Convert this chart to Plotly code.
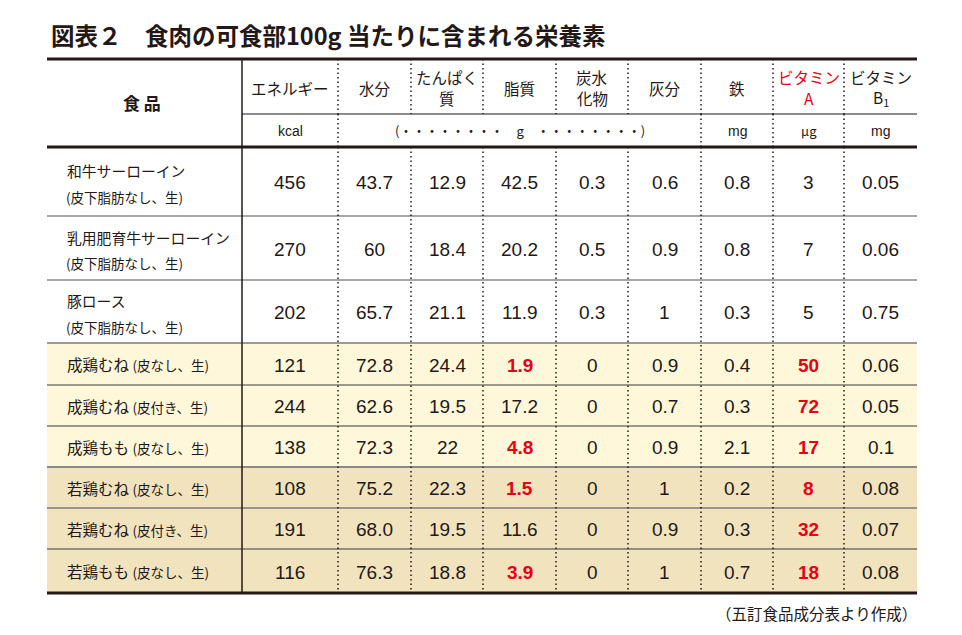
import plotly.graph_objects as go

# ---------------- data ----------------
food_names = ["和牛サーローイン", "乳用肥育牛サーローイン", "豚ロース",
              "成鶏むね", "成鶏むね", "成鶏もも",
              "若鶏むね", "若鶏むね", "若鶏もも"]
food_notes = ["(皮下脂肪なし、生)", "(皮下脂肪なし、生)", "(皮下脂肪なし、生)",
              "(皮なし、生)", "(皮付き、生)", "(皮なし、生)",
              "(皮なし、生)", "(皮付き、生)", "(皮なし、生)"]
header_labels = ["エネルギー", "水分", "たんぱく<br>質", "脂質", "炭水<br>化物",
                 "灰分", "鉄", "ビタミン<br>A", "ビタミン<br>B<sub>1</sub>"]
unit_labels = ["kcal", "(・・・・・・・・　g　・・・・・・・・)", "mg", "μg", "mg"]
energy = ["456", "270", "202", "121", "244", "138", "108", "191", "116"]
water = ["43.7", "60", "65.7", "72.8", "62.6", "72.3", "75.2", "68.0", "76.3"]
protein = ["12.9", "18.4", "21.1", "24.4", "19.5", "22", "22.3", "19.5", "18.8"]
fat = ["42.5", "20.2", "11.9", "1.9", "17.2", "4.8", "1.5", "11.6", "3.9"]
carbs = ["0.3", "0.5", "0.3", "0", "0", "0", "0", "0", "0"]
ash = ["0.6", "0.9", "1", "0.9", "0.7", "0.9", "1", "0.9", "1"]
iron = ["0.8", "0.8", "0.3", "0.4", "0.3", "2.1", "0.2", "0.3", "0.7"]
vit_a = ["3", "7", "5", "50", "72", "17", "8", "32", "18"]
vit_b1 = ["0.05", "0.06", "0.75", "0.06", "0.05", "0.1", "0.08", "0.07", "0.08"]
# highlighted (red bold) cells: (row, column)
highlight = {(3, 3), (5, 3), (6, 3), (8, 3),
             (3, 7), (4, 7), (5, 7), (6, 7), (7, 7), (8, 7)}
row_group = [0, 0, 0, 1, 1, 1, 2, 2, 2]
title = "図表２　食肉の可食部100g 当たりに含まれる栄養素"
source = "（五訂食品成分表より作成）"

columns = [energy, water, protein, fat, carbs, ash, iron, vit_a, vit_b1]

# ---------------- layout constants ----------------
W, H = 962, 635
PAD = 8  # page body margin
col_edges = [47, 242, 338, 411, 483, 556, 628, 701, 773, 844, 917]
y_top, y_head, y_units = 59, 114, 147
row_edges = [147, 216, 280, 343, 385, 426, 467, 508, 549, 593]
group_fill = ["rgba(0,0,0,0)", "#FFF7DA", "#F1E3BE"]
INK = "#231815"
RED = "#E60012"
JP = "Noto Sans CJK JP"
NUM = "Liberation Sans, Arial, Noto Sans CJK JP"

L, R = col_edges[0], col_edges[-1]
fig = go.Figure()
shapes = []
ann = []

# row backgrounds
for i in range(len(food_names)):
    if row_group[i] > 0:
        shapes.append(dict(type="rect", x0=L, x1=R, y0=row_edges[i], y1=row_edges[i + 1],
                           fillcolor=group_fill[row_group[i]], line_width=0, layer="below"))

# horizontal row separators
sep_style = {216: ("#8a8a8a", 1.5), 280: ("#8a8a8a", 1.5), 343: ("#9a9a9a", 2),
             385: ("#3a3a3a", 1.2), 426: ("#3a3a3a", 1.2), 467: ("#8a8a8a", 2),
             508: ("#7a7a7a", 1.5), 549: ("#3a3a3a", 1.2)}
for y in row_edges[1:-1]:
    c, w = sep_style[y]
    shapes.append(dict(type="line", x0=L, x1=R, y0=y, y1=y, line=dict(color=c, width=w)))

# header unit separator
shapes.append(dict(type="line", x0=col_edges[1], x1=R, y0=y_head, y1=y_head,
                   line=dict(color="#8c8c8c", width=2)))

# dotted verticals
units_breaks = {col_edges[2], col_edges[7], col_edges[8], col_edges[9]}
dot = dict(color=INK, width=1.5, dash="1.5px,3px")
for x in col_edges[2:-1]:
    shapes.append(dict(type="line", x0=x, x1=x, y0=y_top, y1=y_head, line=dot))
    if x in units_breaks:
        shapes.append(dict(type="line", x0=x, x1=x, y0=y_head, y1=y_units, line=dot))
    shapes.append(dict(type="line", x0=x, x1=x, y0=y_units, y1=row_edges[-1], line=dot))

# solid vertical after food column
shapes.append(dict(type="line", x0=col_edges[1], x1=col_edges[1], y0=y_top, y1=row_edges[-1],
                   line=dict(color=INK, width=1.5)))

# thick rules
for y in (y_top, y_units, row_edges[-1]):
    shapes.append(dict(type="line", x0=L, x1=R, y0=y, y1=y, line=dict(color=INK, width=3)))

# title
ann.append(dict(x=49, y=35, text=f"<b>{title}</b>", xanchor="left", yanchor="middle",
                showarrow=False, font=dict(family=JP, size=23.5, color=INK)))

# header
ann.append(dict(x=(col_edges[0] + col_edges[1]) / 2 - 3, y=(y_top + y_units) / 2 - 1,
                text="<b>食 品</b>", showarrow=False,
                font=dict(family=JP, size=17, color=INK)))
hmid = (y_top + y_head) / 2 + 1
for j, lab in enumerate(header_labels):
    cx = (col_edges[j + 1] + col_edges[j + 2]) / 2
    lines = lab.split("<br>")
    offs = [0] if len(lines) == 1 else [-10.5, 10.5]
    for ln, dy in zip(lines, offs):
        ann.append(dict(x=cx, y=hmid + dy, text=ln, showarrow=False, borderpad=0,
                        font=dict(family=JP, size=15.5, color=RED if j == 7 else INK)))

# units
unit_spans = [(1, 2), (2, 7), (7, 8), (8, 9), (9, 10)]
for lab, (a, b) in zip(unit_labels, unit_spans):
    cx = (col_edges[a] + col_edges[b]) / 2
    jp = "・" in lab or "μ" in lab
    ann.append(dict(x=cx, y=(y_head + y_units) / 2, text=lab, showarrow=False,
                    font=dict(family=JP if jp else NUM, size=13 if jp else 14, color=INK)))

# body
name_x = 65
for i, (nm, note) in enumerate(zip(food_names, food_notes)):
    cy = (row_edges[i] + row_edges[i + 1]) / 2
    if row_group[i] == 0:
        ann.append(dict(x=name_x, y=cy - 11, text=nm, xanchor="left", showarrow=False,
                        font=dict(family=JP, size=14.8, color=INK)))
        ann.append(dict(x=name_x - 1, y=cy + 15, text=note, xanchor="left", showarrow=False,
                        font=dict(family=JP, size=13.5, color=INK)))
    else:
        ann.append(dict(x=name_x, y=cy, xanchor="left", showarrow=False,
                        text=f"{nm} <span style='font-size:13.5px'>{note}</span>",
                        font=dict(family=JP, size=15.5, color=INK)))
    for j, col in enumerate(columns):
        cx = (col_edges[j + 1] + col_edges[j + 2]) / 2
        hi = (i, j) in highlight
        txt = f"<b>{col[i]}</b>" if hi else col[i]
        ann.append(dict(x=cx, y=cy + 1, text=txt, showarrow=False,
                        font=dict(family=NUM, size=19, color=RED if hi else INK)))

# source
ann.append(dict(x=R + 2, y=613, text=source, xanchor="right", showarrow=False,
                font=dict(family=JP, size=15.5, color=INK)))

fig.update_layout(
    width=W - 2 * PAD, height=H - 2 * PAD, margin=dict(l=0, r=0, t=0, b=0),
    paper_bgcolor="white", plot_bgcolor="white",
    xaxis=dict(range=[PAD, W - PAD], visible=False, fixedrange=True),
    yaxis=dict(range=[H - PAD, PAD], visible=False, fixedrange=True),
    shapes=shapes, annotations=ann, showlegend=False,
)
fig.write_html("out.html")
